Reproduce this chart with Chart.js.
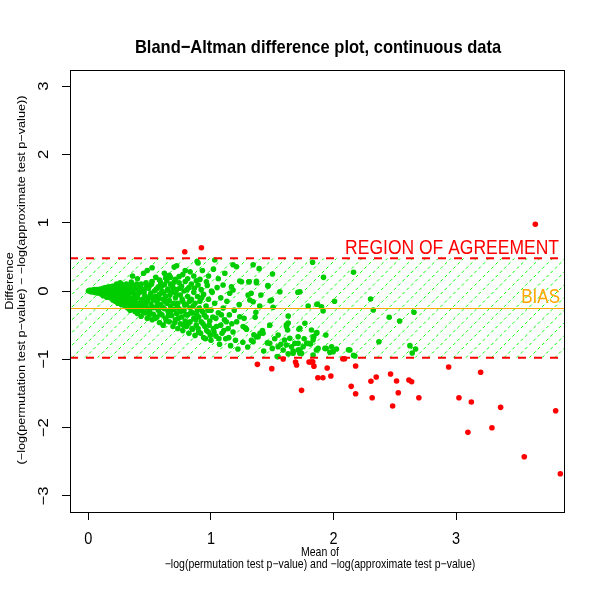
<!DOCTYPE html>
<html lang="en">
<head>
<meta charset="UTF-8">
<title>Bland-Altman difference plot</title>
<script src="https://cdn.jsdelivr.net/npm/chart.js"></script>
<style>
  html, body { margin: 0; padding: 0; background: #fff; }
  canvas { display: block; }
</style>
</head>
<body>
<canvas id="baPlot" width="600" height="600"></canvas>
<script>
// axis setup
const xTicks = [0, 1, 2, 3];
const yTicks = [-3, -2, -1, 0, 1, 2, 3];
const xRange = [-0.15, 3.88];
const yRange = [-3.235, 3.235];

// bias and limits of agreement
const bias = -0.25;
const upperLimit = 0.479;
const lowerLimit = -0.977;

// [mean, difference] pairs inside the limits (green)
const insidePoints = [
  [0.00,0.00],[0.01,0.01],[0.02,-0.01],[0.03,0.01],[0.04,0.00],[0.05,-0.02],[0.05,0.02],[0.06,0.00],
  [0.07,-0.03],[0.07,0.02],[0.08,0.01],[0.08,-0.02],[0.09,0.00],[0.10,-0.04],[0.10,0.03],[0.10,0.00],
  [0.11,-0.02],[0.12,0.04],[0.12,-0.07],[0.13,0.01],[0.14,-0.04],[0.14,0.05],[0.15,-0.09],[0.15,0.00],
  [0.16,0.03],[0.16,-0.06],[0.17,-0.02],[0.17,0.06],[0.18,-0.10],[0.18,0.01],[0.19,-0.05],[0.19,0.04],
  [0.20,-0.08],[0.20,0.00],[0.20,-0.13],
  [0.21,0.07],[0.21,-0.04],[0.22,-0.15],[0.22,0.02],[0.23,-0.09],[0.23,0.10],[0.24,-0.02],[0.24,-0.18],
  [0.25,0.05],[0.25,-0.12],[0.26,-0.06],[0.26,0.12],[0.27,-0.20],[0.27,0.00],[0.28,-0.10],[0.28,0.08],
  [0.29,-0.15],[0.29,-0.03],[0.30,0.04],[0.30,-0.22],[0.30,-0.08],
  [0.31,-0.14],[0.31,0.10],[0.32,-0.25],[0.32,0.00],[0.33,-0.06],[0.33,-0.18],[0.34,0.06],[0.34,-0.28],
  [0.35,-0.11],[0.35,0.13],[0.36,-0.02],[0.36,-0.21],[0.37,0.08],[0.37,-0.15],[0.38,-0.30],[0.38,-0.05],
  [0.39,0.03],[0.39,-0.24],[0.40,-0.10],[0.40,0.18],[0.40,-0.33],[0.36,0.22],
  [0.41,0.05],[0.41,-0.18],[0.42,-0.28],[0.42,-0.02],[0.43,0.10],[0.43,-0.37],[0.44,-0.12],[0.44,-0.22],
  [0.45,0.02],[0.45,0.26],[0.46,-0.32],[0.46,-0.07],[0.47,0.12],[0.47,-0.16],[0.48,-0.40],[0.48,-0.25],
  [0.49,0.04],[0.49,-0.10],[0.50,-0.30],[0.50,0.08],[0.51,-0.19],[0.51,-0.03],[0.52,-0.42],[0.52,0.14],
  [0.53,-0.13],[0.53,-0.34],[0.54,0.00],[0.54,-0.24],[0.55,0.20],[0.55,-0.08],[0.48,0.30],[0.52,0.34],
  [0.56,-0.38],[0.56,-0.16],[0.57,0.06],[0.57,-0.28],[0.58,-0.46],[0.58,-0.05],[0.59,0.12],[0.59,-0.20],
  [0.60,-0.35],[0.60,0.00],[0.61,-0.12],[0.61,-0.50],[0.62,0.09],[0.62,-0.26],[0.63,-0.40],[0.63,-0.08],
  [0.64,0.15],[0.64,-0.18],[0.65,-0.30],[0.65,0.03],[0.66,-0.45],[0.66,-0.14],[0.67,0.10],[0.67,-0.22],
  [0.68,-0.36],[0.68,-0.02],[0.69,0.05],[0.69,-0.52],[0.70,-0.27],[0.70,0.13],[0.62,0.26],[0.67,0.20],
  [0.71,-0.10],[0.71,-0.42],[0.72,0.02],[0.72,-0.33],[0.73,-0.55],[0.73,-0.18],[0.74,0.12],[0.74,-0.26],
  [0.75,-0.06],[0.75,-0.48],[0.76,-0.38],[0.76,0.07],[0.77,-0.15],[0.77,-0.58],[0.78,-0.28],[0.78,0.00],
  [0.79,-0.44],[0.79,0.14],[0.80,-0.20],[0.80,-0.52],[0.81,-0.08],[0.81,-0.35],[0.82,0.05],[0.82,-0.62],
  [0.83,-0.25],[0.83,-0.45],[0.84,-0.12],[0.84,0.10],[0.85,-0.56],[0.85,-0.32],[0.86,-0.02],[0.86,-0.40],
  [0.87,-0.18],[0.87,-0.65],[0.88,0.15],[0.88,-0.50],[0.89,-0.28],[0.89,-0.08],[0.90,-0.60],[0.90,-0.38],
  [0.70,0.35],[0.72,0.37],[0.77,0.24],[0.83,0.28],
  [0.91,-0.15],[0.92,-0.45],[0.92,0.02],[0.93,-0.30],[0.94,-0.68],[0.94,-0.05],[0.95,-0.52],[0.96,-0.22],
  [0.96,-0.38],[0.97,0.08],[0.98,-0.60],[0.98,-0.12],[0.99,-0.44],[1.00,-0.28],[1.00,-0.72],[1.01,-0.02],
  [1.02,-0.55],[1.03,-0.18],[1.04,-0.40],[1.04,-0.66],[1.05,0.05],[1.06,-0.32],[1.07,-0.78],[1.08,-0.10],
  [1.08,-0.50],[1.09,-0.62],[1.10,-0.25],[1.11,-0.42],[1.12,-0.70],[1.13,-0.15],[1.14,-0.55],[1.15,-0.35],
  [1.16,-0.80],[1.17,-0.48],[1.18,-0.60],[1.19,-0.28],[1.20,-0.72],[1.21,-0.45],[1.22,-0.85],[1.23,-0.20],
  [0.02,0.005],[0.035,-0.01],[0.045,0.015],[0.055,-0.005],[0.065,0.01],[0.075,-0.015],[0.085,0.02],
  [0.095,-0.01],[0.105,0.015],[0.115,-0.045],[0.125,0.00],[0.135,-0.06],[0.145,0.025],[0.155,-0.03],
  [0.165,-0.08],[0.175,0.02],[0.185,-0.04],[0.195,0.07],[0.205,-0.06],[0.215,-0.11],[0.225,0.05],
  [0.235,-0.03],[0.245,-0.13],[0.255,0.01],[0.265,-0.09],[0.275,0.04],[0.285,-0.17],[0.295,0.09],
  [0.305,-0.05],[0.315,-0.19],[0.325,0.03],[0.335,-0.12],[0.345,-0.02],[0.355,-0.26],[0.365,0.05],
  [0.375,-0.09],[0.385,-0.17],[0.395,0.10],[0.405,-0.04],[0.415,-0.24],[0.425,0.07],[0.435,-0.15],
  [0.445,-0.30],[0.455,-0.01],[0.465,-0.20],[0.475,0.06],[0.485,-0.13],[0.495,-0.35],[0.505,-0.06],
  [0.515,0.10],[0.525,-0.24],[0.535,-0.09],[0.545,-0.40],[0.555,0.03],[0.565,-0.21],[0.575,-0.11],
  [0.585,-0.33],[0.595,0.07],[0.605,-0.24],[0.615,-0.03],[0.625,-0.15],[0.635,-0.44],[0.645,0.01],
  [0.655,-0.36],[0.665,-0.06],[0.675,-0.29],[0.685,0.09],[0.695,-0.18],[0.705,-0.46],[0.715,-0.04],
  [0.725,-0.22],[0.735,-0.40],[0.745,0.04],[0.755,-0.30],[0.765,-0.12],[0.775,-0.50],[0.785,-0.20],
  [0.795,-0.35],[0.805,0.02],[0.815,-0.48],[0.825,-0.15],[0.835,-0.32],[0.845,-0.55],[0.855,-0.22],
  [0.865,0.04],[0.875,-0.42],[0.885,-0.35],[0.895,-0.55],[0.905,-0.25],[0.915,-0.62],[0.925,-0.10],
  [0.935,-0.48],[0.945,-0.35],[0.955,-0.70],[0.965,-0.58],[0.975,-0.28],[0.985,-0.50],[0.995,-0.65],
  [1.015,-0.38],[1.025,-0.60],[1.045,-0.52],[1.065,-0.70],[1.085,-0.35],[1.105,-0.58],[1.125,-0.45],
  [1.145,-0.68],
  [0.58,0.16],[0.63,0.19],[0.66,0.23],[0.71,0.17],[0.74,0.21],[0.79,0.30],[0.81,0.18],[0.86,0.22],
  [0.91,0.17],[0.93,0.30],[0.98,0.22],[1.02,0.32],[1.06,0.18],
  [0.887,0.43],[0.895,0.41],[1.031,0.454],[1.18,0.385],[1.208,0.356],[1.344,0.385],[1.393,0.327],
  [1.502,0.249],[1.829,0.42],[1.918,0.20],[2.163,0.274],[1.113,0.26],[0.895,0.088],[0.963,0.136],
  [1.004,0.00],[1.099,0.088],[1.167,0.063],[1.18,0.015],[1.153,-0.034],[1.249,0.136],[1.311,0.136],
  [1.371,0.122],[1.466,0.073],[1.303,-0.059],[1.344,-0.157],[1.562,-0.01],[1.494,-0.132],[1.725,-0.01],
  [1.793,-0.22],[1.87,-0.195],[1.483,-0.142],[1.407,-0.059],[1.398,-0.22],[1.328,-0.034],[1.317,-0.132],
  [1.366,-0.312],[1.36,-0.385],[1.507,-0.239],[1.63,-0.366],[1.616,-0.522],[1.625,-0.571],[1.717,-0.561],
  [1.915,-0.293],[1.864,-0.195],[2.008,-0.151],[2.302,-0.117],[2.324,-0.278],[2.454,-0.385],[2.539,-0.439],
  [2.656,-0.312],[1.902,-0.23],[1.709,-0.019],[1.464,0.078],[1.371,0.142],[1.309,0.136],[1.235,0.146],
  [1.235,-0.376],[1.262,-0.52],[1.28,-0.54],[1.29,-0.56],[1.40,-0.62],[1.425,-0.62],[1.371,-0.67],
  [1.48,-0.50],[1.548,-0.645],[1.616,-0.50],[1.63,-0.47],[1.60,-0.717],[1.643,-0.693],[1.725,-0.546],
  [1.711,-0.67],[1.684,-0.766],[1.657,-0.815],[1.766,-0.473],[1.82,-0.571],[1.833,-0.717],[1.78,-0.766],
  [1.752,-0.815],[1.54,-0.96],[1.833,-0.67],[1.86,-0.62],[1.937,-0.645],[1.874,-0.84],[1.93,-0.84],
  [1.984,-0.815],[2.024,-0.849],[1.997,-0.888],[1.97,-0.898],[2.133,-0.864],[2.174,-0.952],[1.833,-0.937],
  [2.37,-0.742],[2.623,-0.80],[2.669,-0.849],[2.642,-0.908],[1.839,-0.669],[1.864,-0.61],[1.812,-0.776],
  [1.725,-0.864],[1.725,-0.912],[1.711,-0.864],[1.344,-0.742],[1.385,-0.669],[1.48,-0.766],[1.548,-0.815],
  [1.589,-0.864],[1.616,-0.79],[1.67,-0.912],[1.711,-0.766],[1.739,-0.912],[1.793,-0.766],[1.86,-0.864],
  [1.94,-0.84],[1.548,-0.962],[2.163,-0.942],[2.122,-0.859],
  [1.26,-0.75],[1.27,-0.40],[1.30,-0.82],[1.33,-0.72],[1.35,-0.64],[1.42,-0.58],[1.43,-0.88],
  [1.46,-0.76],[1.50,-0.84],[1.52,-0.70],[1.57,-0.78],[1.63,-0.92],[1.67,-0.88],[1.76,-0.70]
];

// [mean, difference] pairs outside the limits (red)
const outsidePoints = [
  [0.786,0.575],[0.922,0.634],[3.646,0.976],[1.379,-1.074],[1.496,-1.137],[1.589,-0.996],[1.69,-1.04],
  [1.698,-1.083],[1.739,-1.454],[1.80,-1.04],[1.815,-1.04],[1.83,-1.035],[1.84,-1.10],[1.872,-1.269],
  [1.913,-1.269],[1.948,-1.127],[1.978,-1.244],[2.075,-0.991],[2.09,-0.991],[2.144,-1.396],[2.18,-1.098],
  [2.18,-1.503],[2.305,-1.322],[2.348,-1.259],[2.315,-1.562],[2.465,-1.215],[2.482,-1.684],[2.514,-1.318],
  [2.528,-1.489],[2.615,-1.303],[2.637,-1.328],[2.696,-1.562],[2.939,-1.113],[3.023,-1.562],[3.124,-1.625],
  [3.096,-2.069],[3.20,-1.19],[3.292,-2.001],[3.363,-1.703],[3.556,-2.426],[3.812,-1.752],[3.85,-2.675]
];

const FONT = '"Liberation Sans", Arial, Helvetica, sans-serif';
const STRETCH = 1.15; // the original picture is taller than wide, text looks stretched

function drawText(ctx, text, x, y, opts) {
  ctx.save();
  ctx.translate(x, y);
  ctx.scale(1, STRETCH);
  if (opts.rotate) ctx.rotate(-Math.PI / 2);
  ctx.font = opts.font;
  ctx.fillStyle = opts.color || '#000';
  ctx.textAlign = opts.align || 'center';
  ctx.textBaseline = opts.baseline || 'middle';
  ctx.fillText(text, 0, 0);
  ctx.restore();
}

const overlay = {
  id: 'overlay',
  beforeDatasetsDraw(chart) {
    const { ctx, chartArea: a, scales: { y } } = chart;
    const yTop = y.getPixelForValue(upperLimit);
    const yBot = y.getPixelForValue(lowerLimit);
    const h = yBot - yTop;
    // hatched region of agreement
    ctx.save();
    ctx.beginPath();
    ctx.rect(a.left, yTop, a.right - a.left, h);
    ctx.clip();
    ctx.strokeStyle = '#00ff00';
    ctx.lineWidth = 1;
    ctx.setLineDash([3, 3]);
    for (let x0 = a.left - h; x0 < a.right; x0 += 12.7) {
      ctx.beginPath();
      ctx.moveTo(x0, yBot);
      ctx.lineTo(x0 + h, yTop);
      ctx.stroke();
    }
    ctx.restore();
  },
  afterDatasetsDraw(chart) {
    const { ctx, chartArea: a, scales: { y } } = chart;
    const yTop = y.getPixelForValue(upperLimit);
    const yBot = y.getPixelForValue(lowerLimit);
    const yBias = y.getPixelForValue(bias);
    ctx.save();
    ctx.strokeStyle = '#ff0000';
    ctx.lineWidth = 2;
    ctx.setLineDash([8, 8]);
    [yTop, yBot].forEach(py => {
      ctx.beginPath();
      ctx.moveTo(a.left, py);
      ctx.lineTo(a.right, py);
      ctx.stroke();
    });
    ctx.setLineDash([]);
    ctx.strokeStyle = '#ffa500';
    ctx.lineWidth = 1;
    ctx.beginPath();
    ctx.moveTo(a.left, Math.round(yBias) + 0.5);
    ctx.lineTo(a.right, Math.round(yBias) + 0.5);
    ctx.stroke();
    ctx.restore();

    drawText(ctx, 'REGION OF AGREEMENT', a.right - 5, yTop - 4,
      { font: '17.5px ' + FONT, color: '#ff0000', align: 'right', baseline: 'alphabetic' });
    drawText(ctx, 'BIAS', a.right - 4, yBias - 5,
      { font: '17px ' + FONT, color: '#ffa500', align: 'right', baseline: 'alphabetic' });
  },
  afterDraw(chart) {
    const { ctx, chartArea: a, scales: { x, y } } = chart;
    ctx.save();
    ctx.strokeStyle = '#000';
    ctx.lineWidth = 1;
    ctx.strokeRect(a.left + 0.5, a.top + 0.5, a.right - a.left, a.bottom - a.top);
    ctx.restore();

    x.ticks.forEach(t => {
      drawText(ctx, String(t.value), x.getPixelForValue(t.value), 539, { font: '14.5px ' + FONT });
    });
    y.ticks.forEach(t => {
      const label = t.value < 0 ? '\u2212' + Math.abs(t.value) : String(t.value);
      drawText(ctx, label, 44, y.getPixelForValue(t.value), { font: '14.5px ' + FONT, rotate: true });
    });

    drawText(ctx, 'Bland\u2212Altman difference plot, continuous data', 318, 48,
      { font: 'bold 16.5px ' + FONT });
    drawText(ctx, 'Mean of', 320, 553, { font: '10.5px ' + FONT });
    drawText(ctx, '\u2212log(permutation test p\u2212value) and \u2212log(approximate test p\u2212value)', 320, 565,
      { font: '10.5px ' + FONT });
    drawText(ctx, 'Difference', 9.5, 281, { font: '11px ' + FONT, rotate: true });
    drawText(ctx, '(\u2212log(permutation test p\u2212value) \u2212 \u2212log(approximate test p\u2212value))', 21.5, 280,
      { font: '11px ' + FONT, rotate: true });
  }
};

const ctx = document.getElementById('baPlot').getContext('2d');
new Chart(ctx, {
  type: 'scatter',
  data: {
    datasets: [
      {
        label: 'inside',
        data: insidePoints.map(p => ({ x: p[0], y: p[1] })),
        pointRadius: 2.8,
        pointHoverRadius: 2.8,
        pointBackgroundColor: '#00cd00',
        pointBorderWidth: 0
      },
      {
        label: 'outside',
        data: outsidePoints.map(p => ({ x: p[0], y: p[1] })),
        pointRadius: 2.8,
        pointHoverRadius: 2.8,
        pointBackgroundColor: '#ff0000',
        pointBorderWidth: 0
      }
    ]
  },
  options: {
    responsive: false,
    animation: false,
    devicePixelRatio: 1,
    layout: { padding: { top: 70, right: 36, left: 0, bottom: 0 } },
    plugins: { legend: { display: false }, tooltip: { enabled: false } },
    scales: {
      x: {
        type: 'linear',
        min: xRange[0],
        max: xRange[1],
        afterBuildTicks: s => { s.ticks = xTicks.map(v => ({ value: v })); },
        afterFit: s => { s.height = 88; },
        border: { display: false },
        grid: { drawOnChartArea: false, drawTicks: true, tickLength: 8, color: '#000' },
        ticks: { color: 'rgba(0,0,0,0)', font: { size: 13 } }
      },
      y: {
        type: 'linear',
        min: yRange[0],
        max: yRange[1],
        afterBuildTicks: s => { s.ticks = yTicks.map(v => ({ value: v })); },
        afterFit: s => { s.width = 70; },
        border: { display: false },
        grid: { drawOnChartArea: false, drawTicks: true, tickLength: 8, color: '#000' },
        ticks: { color: 'rgba(0,0,0,0)', font: { size: 13 } }
      }
    }
  },
  plugins: [overlay]
});
</script>
</body>
</html>
